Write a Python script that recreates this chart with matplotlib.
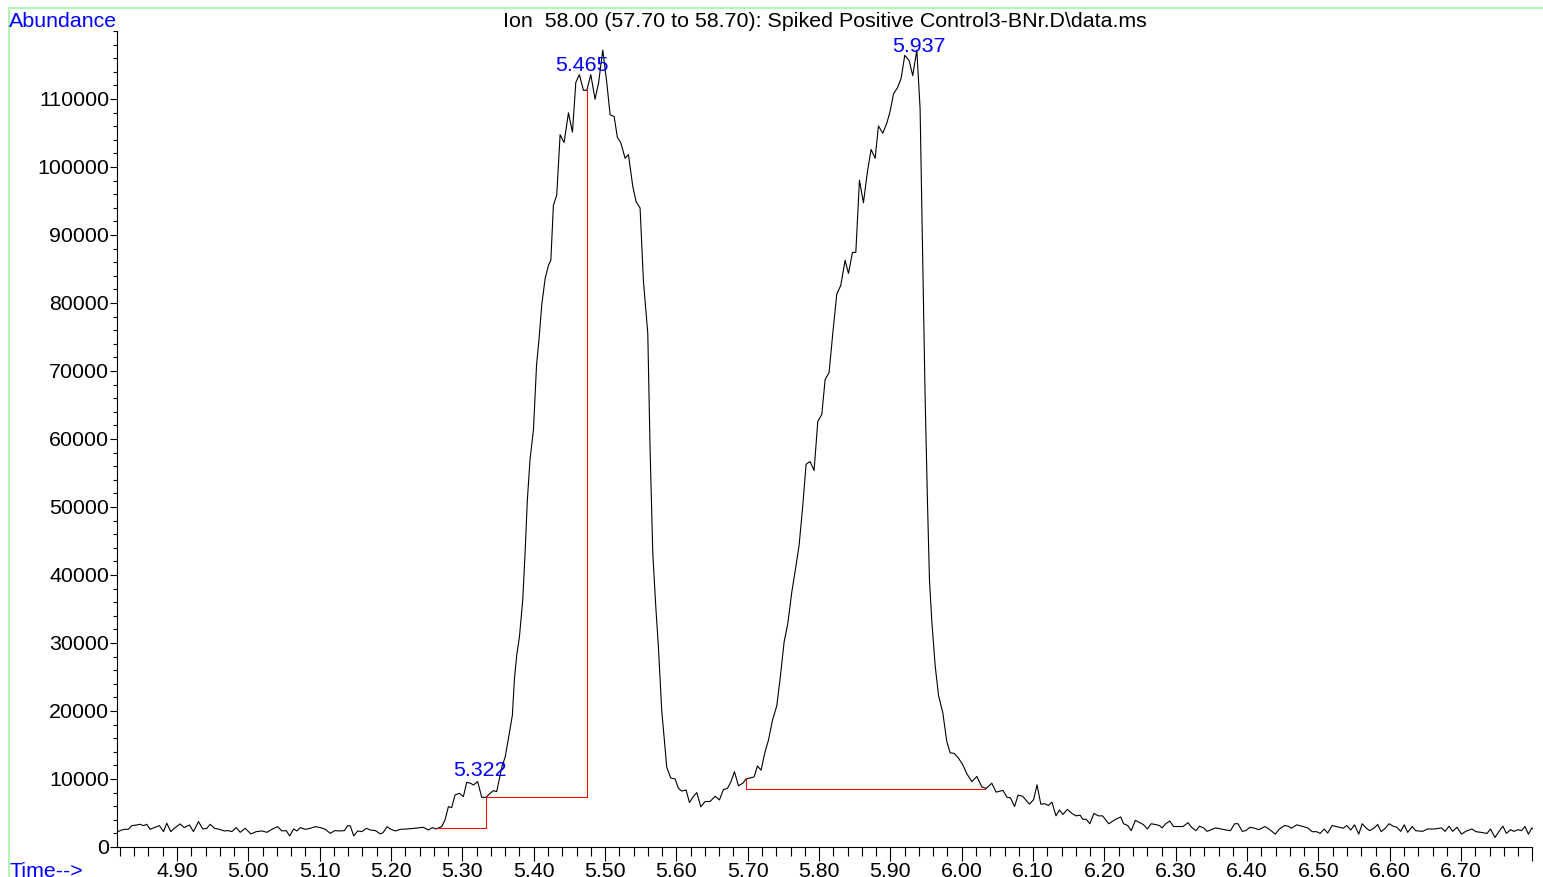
import matplotlib
matplotlib.use('Agg')
from matplotlib import pyplot as plt
from matplotlib.ticker import MultipleLocator, FixedLocator, FixedFormatter
from matplotlib.lines import Line2D
import numpy as np

plt.rcParams['font.family'] = ['Liberation Sans', 'DejaVu Sans']

title = 'Ion  58.00 (57.70 to 58.70): Spiked Positive Control3-BNr.D\\data.ms'

# trace in pieces, (time in min, abundance)
pre_peak = [
    (4.8155, 2160), (4.8202, 2410), (4.8258, 2600), (4.8319, 2600), (4.8366, 3140),
    (4.8436, 3240), (4.8483, 3340), (4.8530, 3140), (4.8576, 3340), (4.8623, 2600),
    (4.8680, 2850), (4.8754, 3140), (4.8811, 2260), (4.8857, 3490), (4.8913, 2260),
    (4.8974, 2850), (4.9044, 3390), (4.9101, 2850), (4.9175, 3240), (4.9231, 2260),
    (4.9301, 3730), (4.9362, 2650), (4.9418, 2750), (4.9465, 3340), (4.9526, 2750),
    (4.9596, 2600), (4.9661, 2360), (4.9722, 2410), (4.9769, 2260), (4.9830, 2850),
    (4.9886, 2160), (4.9956, 2750), (5.0036, 1920), (5.0111, 2260), (5.0190, 2360),
    (5.0261, 2160), (5.0331, 2600), (5.0410, 2990), (5.0471, 2360), (5.0532, 2410),
    (5.0579, 1620), (5.0635, 2650), (5.0681, 2360), (5.0728, 2850), (5.0798, 2600),
    (5.0868, 2750), (5.0939, 2990), (5.1009, 2850), (5.1079, 2600), (5.1149, 2010),
    (5.1210, 2410), (5.1280, 2360), (5.1346, 2410), (5.1393, 3140), (5.1430, 3090),
    (5.1477, 1620), (5.1533, 2360), (5.1593, 2260), (5.1654, 2750), (5.1710, 2500),
    (5.1781, 2410), (5.1851, 1920), (5.1888, 2110), (5.1944, 2990), (5.2000, 2600),
    (5.2061, 2360), (5.2131, 2600), (5.2220, 2650), (5.2336, 2750), (5.2453, 2900),
    (5.2523, 2500), (5.2580, 2850), (5.2631, 2650),
]

first_peak = [
    (5.2710, 3000), (5.2757, 3975), (5.2804, 5935), (5.2850, 5790), (5.2897, 7650),
    (5.2958, 7895), (5.3014, 7405), (5.3061, 9510), (5.3117, 9365), (5.3154, 9120),
    (5.3215, 9610), (5.3271, 7305), (5.3332, 7305), (5.3388, 7895), (5.3435, 8290),
    (5.3481, 8140), (5.3552, 11690), (5.3600, 13230), (5.3645, 15920), (5.3701, 19380),
    (5.3730, 24760), (5.3762, 28220), (5.3800, 30910), (5.3846, 36300), (5.3879, 43220),
    (5.3910, 50900), (5.3949, 57060), (5.3996, 61290), (5.4040, 70900), (5.4075, 74750),
    (5.4113, 79750), (5.4160, 83590), (5.4206, 85510), (5.4240, 86280), (5.4276, 94360),
    (5.4323, 95900), (5.4370, 104740), (5.4426, 103590), (5.4487, 107970), (5.4543, 105120),
    (5.4590, 112430), (5.4640, 113580), (5.4697, 111280), (5.4744, 111280), (5.4800, 113580),
    (5.4860, 109970), (5.4910, 112430), (5.4968, 117200), (5.5024, 112430), (5.5071, 107660),
    (5.5127, 107430), (5.5173, 104350), (5.5220, 103590), (5.5281, 101280), (5.5328, 101820),
    (5.5388, 97200), (5.5435, 94900), (5.5491, 93970), (5.5538, 83210), (5.5599, 75520),
    (5.5631, 58600), (5.5669, 43220), (5.5710, 35530), (5.5748, 29380), (5.5794, 20150),
    (5.5865, 11690), (5.5921, 10150), (5.5982, 10000),
]

valley = [
    (5.6029, 8610), (5.6075, 8230), (5.6136, 8380), (5.6183, 6540), (5.6239, 7460),
    (5.6286, 8000), (5.6342, 5920), (5.6402, 6690), (5.6472, 6690), (5.6543, 7460),
    (5.6603, 6920), (5.6660, 8460), (5.6715, 8610), (5.6762, 9540), (5.6814, 11070),
    (5.6870, 9000), (5.6930, 9380), (5.6977, 10000),
]

second_peak = [
    (5.7033, 10150), (5.7089, 10300), (5.7136, 11920), (5.7187, 11300), (5.7243, 14000),
    (5.7290, 15690), (5.7346, 18610), (5.7407, 20760), (5.7454, 24760), (5.7510, 30150),
    (5.7561, 32840), (5.7617, 37450), (5.7664, 40530), (5.7720, 44370), (5.7771, 50140),
    (5.7818, 56290), (5.7874, 56680), (5.7930, 55370), (5.7982, 62600), (5.8038, 63600),
    (5.8085, 68750), (5.8140, 69750), (5.8192, 75520), (5.8248, 81280), (5.8304, 82590),
    (5.8365, 86280), (5.8412, 84360), (5.8468, 87440), (5.8515, 87440), (5.8566, 98050),
    (5.8622, 94740), (5.8678, 99350), (5.8729, 102580), (5.8786, 101280), (5.8832, 106040),
    (5.8893, 104970), (5.8949, 106430), (5.8996, 108200), (5.9043, 110740), (5.9099, 111660),
    (5.9150, 113040), (5.9201, 116430), (5.9262, 115660), (5.9313, 113430), (5.9370, 117200),
    (5.9416, 108580), (5.9454, 85510), (5.9486, 66290), (5.9519, 50900), (5.9547, 39370),
    (5.9580, 33220), (5.9627, 26680), (5.9674, 22300), (5.9734, 19760), (5.9790, 15530),
    (5.9837, 13840), (5.9893, 13770), (5.9954, 13070), (6.0015, 12070), (6.0071, 10770),
    (6.0141, 9610), (6.0211, 10380), (6.0281, 8840), (6.0342, 8610), (6.0421, 9380),
    (6.0482, 8070),
]

tail = [
    (6.0538, 8230), (6.0577, 8330), (6.0635, 7320), (6.0683, 7220), (6.0740, 5950),
    (6.0789, 7620), (6.0852, 7470), (6.0949, 6300), (6.1007, 6960), (6.1055, 9140),
    (6.1108, 6300), (6.1166, 6360), (6.1215, 6100), (6.1263, 6610), (6.1321, 4580),
    (6.1369, 5440), (6.1418, 4780), (6.1480, 5540), (6.1543, 4940), (6.1601, 4580),
    (6.1659, 4680), (6.1698, 4070), (6.1746, 4070), (6.1795, 3420), (6.1853, 4940),
    (6.1916, 4580), (6.1974, 4580), (6.2060, 3420), (6.2157, 4070), (6.2229, 4430),
    (6.2268, 3420), (6.2326, 3160), (6.2375, 2400), (6.2433, 3920), (6.2495, 3570),
    (6.2544, 3310), (6.2602, 2650), (6.2655, 3420), (6.2713, 3310), (6.2771, 3160),
    (6.2809, 2810), (6.2858, 3420), (6.2916, 3820), (6.2969, 3010), (6.3027, 3010),
    (6.3100, 3010), (6.3172, 3570), (6.3220, 2910), (6.3283, 2400), (6.3332, 3060),
    (6.3390, 2810), (6.3438, 2300), (6.3496, 2550), (6.3559, 2810), (6.3631, 2650),
    (6.3704, 2500), (6.3766, 2400), (6.3825, 3420), (6.3873, 3420), (6.3931, 2300),
    (6.3979, 2400), (6.4042, 2910), (6.4105, 2760), (6.4163, 2550), (6.4250, 3010),
    (6.4318, 2550), (6.4395, 1890), (6.4453, 2650), (6.4525, 3160), (6.4574, 3060),
    (6.4622, 2760), (6.4695, 3260), (6.4767, 3060), (6.4849, 2810), (6.4912, 2250),
    (6.4975, 2250), (6.5023, 2000), (6.5081, 2650), (6.5129, 2050), (6.5192, 3160),
    (6.5250, 3010), (6.5347, 2760), (6.5395, 3160), (6.5453, 2500), (6.5506, 3260),
    (6.5564, 1890), (6.5613, 3420), (6.5671, 2760), (6.5719, 2400), (6.5782, 2810),
    (6.5830, 3310), (6.5879, 2250), (6.5941, 2810), (6.5990, 3420), (6.6048, 3060),
    (6.6096, 2910), (6.6154, 2300), (6.6202, 3260), (6.6251, 2150), (6.6314, 3010),
    (6.6362, 2400), (6.6459, 2300), (6.6531, 2650), (6.6628, 2650), (6.6725, 2810),
    (6.6773, 2300), (6.6831, 3060), (6.6880, 2300), (6.6942, 2910), (6.7005, 1890),
    (6.7063, 2300), (6.7150, 2650), (6.7208, 2250), (6.7280, 2150), (6.7363, 2000),
    (6.7411, 2650), (6.7474, 1390), (6.7537, 2400), (6.7585, 3060), (6.7634, 2000),
    (6.7692, 2550), (6.7740, 2300), (6.7798, 2550), (6.7846, 2400), (6.7895, 3010),
    (6.7943, 1890), (6.7991, 2810), (6.8030, 2500),
]

# integration baselines / drop lines drawn in red
baseline_5322 = [(5.2645, 2790), (5.3332, 2790), (5.3332, 7350)]
baseline_5465 = [(5.3332, 7350), (5.4748, 7350), (5.4748, 111280)]
baseline_5937 = [(5.6977, 10000), (5.6977, 8530), (6.0328, 8530)]

peak_labels = ['5.322', '5.465', '5.937']
peak_label_heights = [10440, 114120, 116910]

x_ticks = [4.90, 5.00, 5.10, 5.20, 5.30, 5.40, 5.50, 5.60, 5.70, 5.80,
           5.90, 6.00, 6.10, 6.20, 6.30, 6.40, 6.50, 6.60, 6.70, 6.80]
x_labels = ['4.90', '5.00', '5.10', '5.20', '5.30', '5.40', '5.50', '5.60', '5.70', '5.80',
            '5.90', '6.00', '6.10', '6.20', '6.30', '6.40', '6.50', '6.60', '6.70', '']
y_ticks = [0, 10000, 20000, 30000, 40000, 50000, 60000, 70000, 80000, 90000, 100000, 110000]
y_labels = [str(v) for v in y_ticks]

W, H = 1543, 877
FS = 15.4
BLUE = '#0000ff'

fig = plt.figure(figsize=(W / 100, H / 100), dpi=100)
ax = fig.add_axes([117 / W, 30 / H, (1532.5 - 117) / W, (847 - 31) / H])

trace = np.array(pre_peak + first_peak + valley + second_peak + tail)
ax.plot(trace[:, 0], trace[:, 1], color='black', lw=0.8)

for seg in (baseline_5322, baseline_5465, baseline_5937):
    s = np.array(seg)
    ax.plot(s[:, 0], s[:, 1], color='red', lw=0.75)

for lbl, h in zip(peak_labels, peak_label_heights):
    ax.annotate(lbl, (float(lbl), h), xytext=(1.2, 0), textcoords='offset points',
                ha='center', va='baseline', color=BLUE, fontsize=FS)

ax.set_xlim(4.8159, 6.80)
ax.set_ylim(0, 120000)

ax.xaxis.set_major_locator(FixedLocator(x_ticks))
ax.xaxis.set_major_formatter(FixedFormatter(x_labels))
ax.xaxis.set_minor_locator(MultipleLocator(0.02))
ax.yaxis.set_major_locator(FixedLocator(y_ticks))
ax.yaxis.set_major_formatter(FixedFormatter(y_labels))
ax.yaxis.set_minor_locator(MultipleLocator(2000))

ax.tick_params(axis='x', which='major', length=10, width=0.8, pad=1, labelsize=FS, direction='out')
ax.tick_params(axis='x', which='minor', length=6.5, width=0.8, direction='out')
ax.tick_params(axis='y', which='major', length=5, width=0.8, pad=0.5, labelsize=FS, direction='out')
ax.tick_params(axis='y', which='minor', length=2.7, width=0.8, direction='out')

for side in ('top', 'right'):
    ax.spines[side].set_visible(False)
for side in ('left', 'bottom'):
    ax.spines[side].set_linewidth(0.8)

# light green frame round the plot area
green = '#b3f5b3'
fig.add_artist(Line2D([8.5 / W, 1], [1 - 7.5 / H, 1 - 7.5 / H], transform=fig.transFigure,
                      color=green, lw=1.5))
fig.add_artist(Line2D([8.5 / W, 8.5 / W], [0, 1 - 7.5 / H], transform=fig.transFigure,
                      color=green, lw=1.5))

fig.text(9 / W, 1 - 27 / H, 'Abundance', color=BLUE, fontsize=FS, ha='left', va='baseline')
fig.text(9 / W, 0.0, 'Time-->', color=BLUE, fontsize=FS, ha='left', va='baseline')
fig.text((117 + 1532.5) / 2 / W, 1 - 27 / H, title, color='black', fontsize=FS,
         ha='center', va='baseline')

fig.savefig('out.png', dpi=100)
